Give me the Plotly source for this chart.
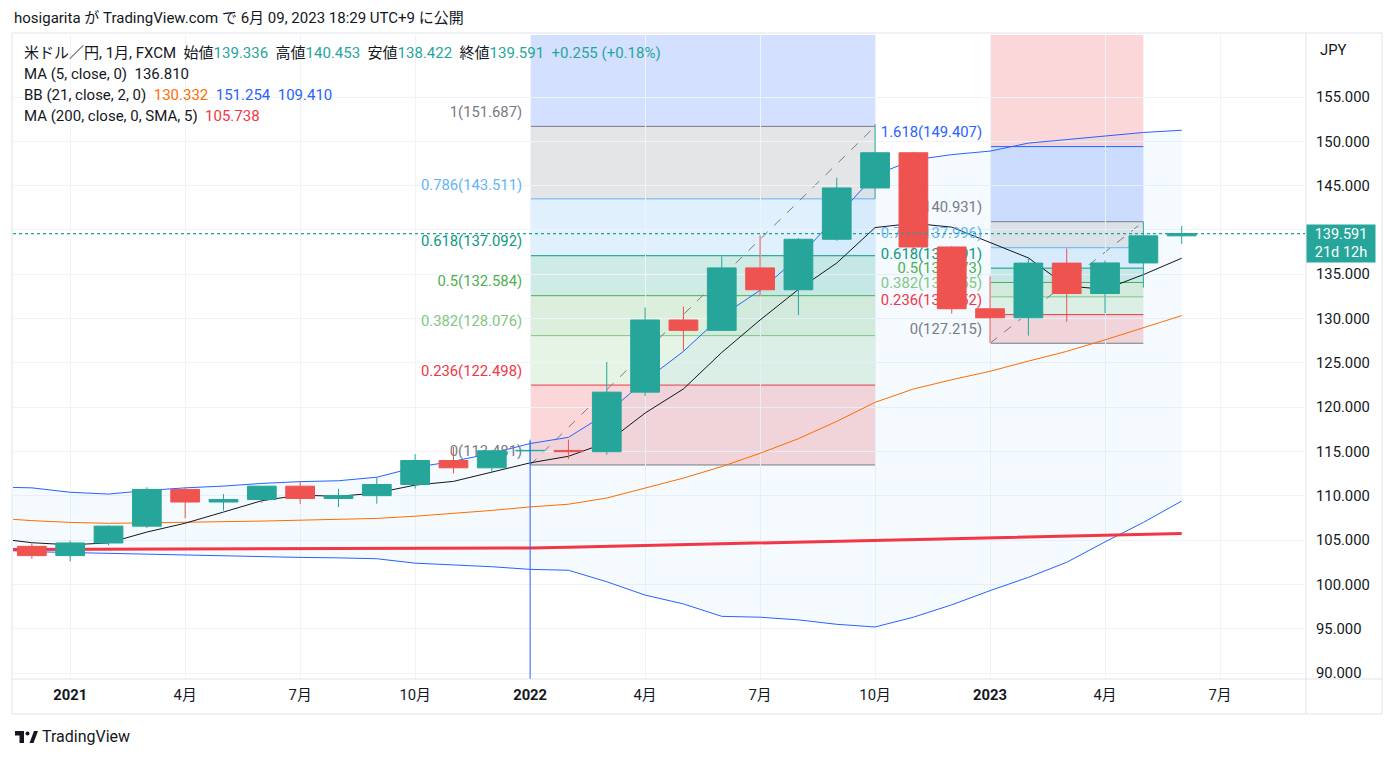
"""
USD/JPY monthly candles (FXCM) with MA5, BB(21,2), MA200 and two Fibonacci
retracements, styled after a TradingView snapshot.
"""

import plotly.graph_objects as go

# ---- data ---------------------------------------------------------------
months = [
    "2020-11", "2020-12", "2021-01", "2021-02", "2021-03", "2021-04",
    "2021-05", "2021-06", "2021-07", "2021-08", "2021-09", "2021-10",
    "2021-11", "2021-12", "2022-01", "2022-02", "2022-03", "2022-04",
    "2022-05", "2022-06", "2022-07", "2022-08", "2022-09", "2022-10",
    "2022-11", "2022-12", "2023-01", "2023-02", "2023-03", "2023-04",
    "2023-05", "2023-06",
]
open_ = [
    104.54, 104.30, 103.25, 104.68, 106.58, 110.72, 109.30, 109.58, 111.09,
    109.70, 110.02, 111.28, 113.98, 113.16, 115.08, 115.12, 114.98, 121.70,
    129.84, 128.67, 135.72, 133.25, 138.95, 144.74, 148.71, 138.08, 131.11,
    130.09, 136.26, 132.83, 136.28, 139.336,
]
high = [
    105.68, 104.76, 104.94, 106.69, 110.97, 110.97, 110.20, 111.11, 111.66,
    110.80, 112.08, 114.70, 115.52, 115.20, 116.35, 116.34, 125.10, 131.25,
    131.35, 137.00, 139.38, 139.08, 145.90, 151.94, 148.82, 138.18, 134.77,
    136.92, 137.91, 136.56, 140.93, 140.453,
]
low = [
    103.18, 102.88, 102.59, 104.41, 106.37, 107.48, 108.34, 109.19, 109.06,
    108.72, 109.11, 110.82, 112.53, 112.55, 113.47, 114.15, 114.65, 121.28,
    126.36, 128.65, 132.50, 130.40, 138.78, 143.52, 137.67, 130.57, 127.22,
    128.08, 129.64, 130.63, 133.50, 138.422,
]
close = [
    104.30, 103.25, 104.68, 106.58, 110.72, 109.30, 109.58, 111.09, 109.70,
    110.02, 111.28, 113.98, 113.16, 115.08, 115.12, 114.98, 121.70, 129.84,
    128.67, 135.72, 133.25, 138.95, 144.74, 148.71, 138.08, 131.11, 130.09,
    136.26, 132.83, 136.28, 139.336, 139.591,
]
ma5 = [
    105.23, 104.71, 104.47, 104.69, 105.91, 106.91, 108.17, 109.45, 110.08,
    109.94, 110.33, 111.21, 111.63, 112.70, 113.72, 114.46, 116.01, 119.34,
    122.06, 126.18, 129.84, 133.29, 136.27, 140.27, 140.75, 140.32, 138.55,
    136.85, 133.67, 133.31, 134.96, 136.81,
]
bb_upper = [
    111.0, 110.9, 110.4, 110.2, 110.6, 110.9, 111.1, 111.4, 111.6, 111.7,
    112.1, 113.2, 113.9, 114.8, 115.9, 116.6, 119.3, 123.0, 126.3, 130.3,
    133.2, 136.9, 141.5, 146.2, 147.9, 148.5, 148.9, 149.8, 150.2, 150.6,
    151.0, 151.254,
]
bb_basis = [
    107.5, 107.2, 107.0, 106.9, 106.95, 107.0, 107.05, 107.15, 107.25, 107.35,
    107.45, 107.7, 108.0, 108.35, 108.75, 109.05, 109.75, 110.9, 112.0, 113.3,
    114.8, 116.45, 118.4, 120.55, 122.05, 123.1, 124.05, 125.2, 126.3, 127.6,
    129.0, 130.332,
]
bb_lower = [
    103.9, 103.7, 103.6, 103.5, 103.4, 103.3, 103.2, 103.1, 103.05, 103.0,
    102.9, 102.4, 102.2, 102.0, 101.7, 101.6, 100.3, 98.8, 97.8, 96.4,
    96.3, 96.0, 95.5, 95.2, 96.3, 97.7, 99.3, 100.8, 102.5, 104.8,
    107.0, 109.410,
]
ma200 = [
    103.95, 103.96, 103.97, 103.98, 103.99, 104.00, 104.01, 104.02, 104.03,
    104.04, 104.05, 104.06, 104.08, 104.10, 104.12, 104.20, 104.30, 104.40,
    104.50, 104.60, 104.70, 104.80, 104.90, 105.00, 105.10, 105.20, 105.30,
    105.38, 105.46, 105.55, 105.65, 105.738,
]

fib_levels = ["0", "0.236", "0.382", "0.5", "0.618", "0.786", "1", "1.618", "2.618"]
fib_colors = ["#787b86", "#f23645", "#81c784", "#4caf50", "#089981",
              "#64b5f6", "#787b86", "#2962ff", "#f23645"]
fib1_prices = [113.481, 122.498, 128.076, 132.584, 137.092, 143.511, 151.687, 175.297, 213.503]
fib2_prices = [127.215, 130.452, 132.455, 134.073, 135.691, 137.996, 140.931, 149.407, 163.123]

tick_pos = [2, 5, 8, 11, 14, 17, 20, 23, 26, 29, 32]
tick_text = ["<b>2021</b>", "4月", "7月", "10月", "<b>2022</b>", "4月", "7月", "10月",
             "<b>2023</b>", "4月", "7月"]
price_ticks = list(range(90, 160, 5))
# the 140 label sits under the last-price tag, so it is left blank
price_tick_text = ["" if v == 140 else f"{v:.3f}" for v in price_ticks]

# ---- layout geometry (pixels of the 1394x758 page) ----------------------
W, H = 1394, 758
PL, PR, PT, PB = 13, 1305, 35, 679
X_RANGE = [0.508, 34.217]
Y_RANGE = [89.33, 162.0]
PX_PER_UNIT = (PB - PT) / (Y_RANGE[1] - Y_RANGE[0])
PX_PER_BAR = (PR - PL) / (X_RANGE[1] - X_RANGE[0])

UP, DOWN = "#26a69a", "#ef5350"
TEXT = "#131722"
FONT = "Roboto, 'Noto Sans CJK JP', sans-serif"
FS = 14.8


def px(x):
    return (x - PL) / (PR - PL)


def py(y):
    return (PB - y) / (PB - PT)


def rgba(hex_color, a):
    h = hex_color.lstrip("#")
    return f"rgba({int(h[0:2], 16)},{int(h[2:4], 16)},{int(h[4:6], 16)},{a})"


x = list(range(len(months)))
fig = go.Figure()

# Bollinger band fill + lines
fig.add_trace(go.Scatter(x=x, y=bb_lower, mode="lines",
                         line=dict(color="#2962ff", width=1), hoverinfo="skip"))
fig.add_trace(go.Scatter(x=x, y=bb_upper, mode="lines", fill="tonexty",
                         fillcolor="rgba(33,150,243,0.05)",
                         line=dict(color="#2962ff", width=1), hoverinfo="skip"))
fig.add_trace(go.Scatter(x=x, y=bb_basis, mode="lines",
                         line=dict(color="#ff6d00", width=1), hoverinfo="skip"))
fig.add_trace(go.Scatter(x=x, y=ma200, mode="lines",
                         line=dict(color="#f23645", width=3), hoverinfo="skip"))
fig.add_trace(go.Scatter(x=x, y=ma5, mode="lines",
                         line=dict(color="#131722", width=1), hoverinfo="skip"))

shapes = []


def add_fib(prices, start, end, label_count):
    for k in range(1, len(prices)):
        shapes.append(dict(type="rect", xref="x", yref="y", layer="below",
                           x0=start, x1=end, y0=prices[k - 1], y1=prices[k],
                           line=dict(width=0), fillcolor=rgba(fib_colors[k], 0.2)))
    for k, p in enumerate(prices):
        shapes.append(dict(type="line", xref="x", yref="y", layer="below",
                           x0=start, x1=end, y0=p, y1=p,
                           line=dict(color=fib_colors[k], width=1)))
    shapes.append(dict(type="line", xref="x", yref="y", layer="below",
                       x0=start, x1=end, y0=prices[0], y1=prices[6],
                       line=dict(color="#787b86", width=1, dash="dash")))
    n = label_count
    fig.add_trace(go.Scatter(
        x=[start - 8 / PX_PER_BAR] * n,
        y=[p + 13 / PX_PER_UNIT for p in prices[:n]],
        mode="text", textposition="middle left",
        text=[f"{fib_levels[k]}({prices[k]:.3f})" for k in range(n)],
        textfont=dict(family=FONT, size=FS, color=fib_colors[:n]),
        hoverinfo="skip"))


add_fib(fib1_prices, 14, 23, 7)
add_fib(fib2_prices, 26, 30, 8)

# vertical marker at Jan 2022
shapes.append(dict(type="line", xref="x", yref="y", layer="above",
                   x0=14, x1=14, y0=116.2, y1=Y_RANGE[0],
                   line=dict(color="#2962ff", width=1)))
# last price line
shapes.append(dict(type="line", xref="x", yref="y", layer="above",
                   x0=X_RANGE[0], x1=X_RANGE[1], y0=close[-1], y1=close[-1],
                   line=dict(color="#1fa396", width=1.2, dash="dot")))

# candles on an overlaid axis pair so they sit above lines and labels
fig.add_trace(go.Candlestick(
    x=x, open=open_, high=high, low=low, close=close,
    xaxis="x2", yaxis="y2", whiskerwidth=0,
    increasing=dict(line=dict(color=UP, width=1), fillcolor=UP),
    decreasing=dict(line=dict(color=DOWN, width=1), fillcolor=DOWN),
    hoverinfo="skip"))

# frame lines
frame = "#e0e3eb"
for x0, y0, x1, y1 in [(12, 33, 1382, 33), (12, 714, 1382, 714), (12, 33, 12, 714),
                       (1382, 33, 1382, 714), (1306, 33, 1306, 714), (12, 679, 1382, 679)]:
    shapes.append(dict(type="line", xref="paper", yref="paper", layer="above",
                       x0=px(x0), x1=px(x1), y0=py(y0), y1=py(y1),
                       line=dict(color=frame, width=1)))

# TradingView logo
shapes += [
    dict(type="rect", xref="paper", yref="paper", x0=px(15), x1=px(24), y0=py(735.5), y1=py(731),
         fillcolor=TEXT, line=dict(width=0)),
    dict(type="rect", xref="paper", yref="paper", x0=px(19.5), x1=px(24), y0=py(743), y1=py(731),
         fillcolor=TEXT, line=dict(width=0)),
    dict(type="circle", xref="paper", yref="paper", x0=px(25.5), x1=px(29.5), y0=py(735.5), y1=py(731.5),
         fillcolor=TEXT, line=dict(width=0)),
    dict(type="path", xref="paper", yref="paper",
         path=f"M {px(29.5)} {py(743)} L {px(34)} {py(731)} L {px(38)} {py(731)} L {px(33.5)} {py(743)} Z",
         fillcolor=TEXT, line=dict(width=0)),
]

teal = "#26a69a"
legend_lines = [
    ("米ドル／円, 1月, FXCM  始値<span style='color:%s'>139.336</span>  高値<span style='color:%s'>140.453</span>"
     "  安値<span style='color:%s'>138.422</span>  終値<span style='color:%s'>139.591</span>"
     "  <span style='color:%s'>+0.255 (+0.18%%)</span>" % (teal, teal, teal, teal, teal), 53),
    ("MA (5, close, 0)  136.810", 74),
    ("BB (21, close, 2, 0)  <span style='color:#ff6d00'>130.332</span>  "
     "<span style='color:#2962ff'>151.254</span>  <span style='color:#2962ff'>109.410</span>", 95),
    ("MA (200, close, 0, SMA, 5)  <span style='color:#f23645'>105.738</span>", 116),
]
annotations = []
for text, ypix in legend_lines:
    annotations.append(dict(text=text, xref="paper", yref="paper", x=px(22), y=py(ypix),
                            xanchor="left", yanchor="middle", showarrow=False,
                            font=dict(family=FONT, size=15, color=TEXT)))
annotations += [
    dict(text="hosigarita が TradingView.com で 6月 09, 2023 18:29 UTC+9 に公開",
         xref="paper", yref="paper", x=px(12), y=py(18), xanchor="left", yanchor="middle",
         showarrow=False, font=dict(family=FONT, size=15, color=TEXT)),
    dict(text="JPY", xref="paper", yref="paper", x=px(1318), y=py(50), xanchor="left",
         yanchor="middle", showarrow=False, font=dict(family=FONT, size=FS, color=TEXT)),
    dict(text="TradingView", xref="paper", yref="paper", x=px(40), y=py(737), xanchor="left",
         yanchor="middle", showarrow=False, font=dict(family=FONT, size=16, color=TEXT)),
    dict(text="139.591<br>21d 12h", xref="paper", yref="y", x=px(1306.5), y=close[-1],
         xanchor="left", yanchor="middle", yshift=-9.5, showarrow=False,
         bgcolor=UP, width=66, height=35, borderpad=1, align="center",
         font=dict(family=FONT, size=14.5, color="white")),
]

axis_common = dict(showline=False, zeroline=False, fixedrange=True)
fig.update_layout(
    width=W, height=H,
    margin=dict(l=PL, r=W - PR, t=PT, b=H - PB),
    paper_bgcolor="white", plot_bgcolor="white",
    font=dict(family=FONT, size=FS, color=TEXT),
    showlegend=False,
    boxgap=0.25, boxgroupgap=0,
    xaxis=dict(range=X_RANGE, tickvals=tick_pos, ticktext=tick_text, showgrid=True,
               gridcolor="#f0f3fa", ticks="", ticklabelstandoff=5,
               tickfont=dict(family=FONT, size=FS, color=TEXT), **axis_common),
    yaxis=dict(range=Y_RANGE, side="right", tickvals=price_ticks, ticktext=price_tick_text,
               showgrid=True, gridcolor="#f0f3fa", ticks="",
               ticklabelstandoff=10, tickfont=dict(family=FONT, size=FS, color=TEXT),
               **axis_common),
    xaxis2=dict(range=X_RANGE, overlaying="x", visible=False, rangeslider=dict(visible=False),
                **axis_common),
    yaxis2=dict(range=Y_RANGE, overlaying="y", visible=False, **axis_common),
    shapes=shapes,
    annotations=annotations,
)

fig.write_html("out.html", config={"displayModeBar": False},
               post_script="document.body.style.margin='0';")
